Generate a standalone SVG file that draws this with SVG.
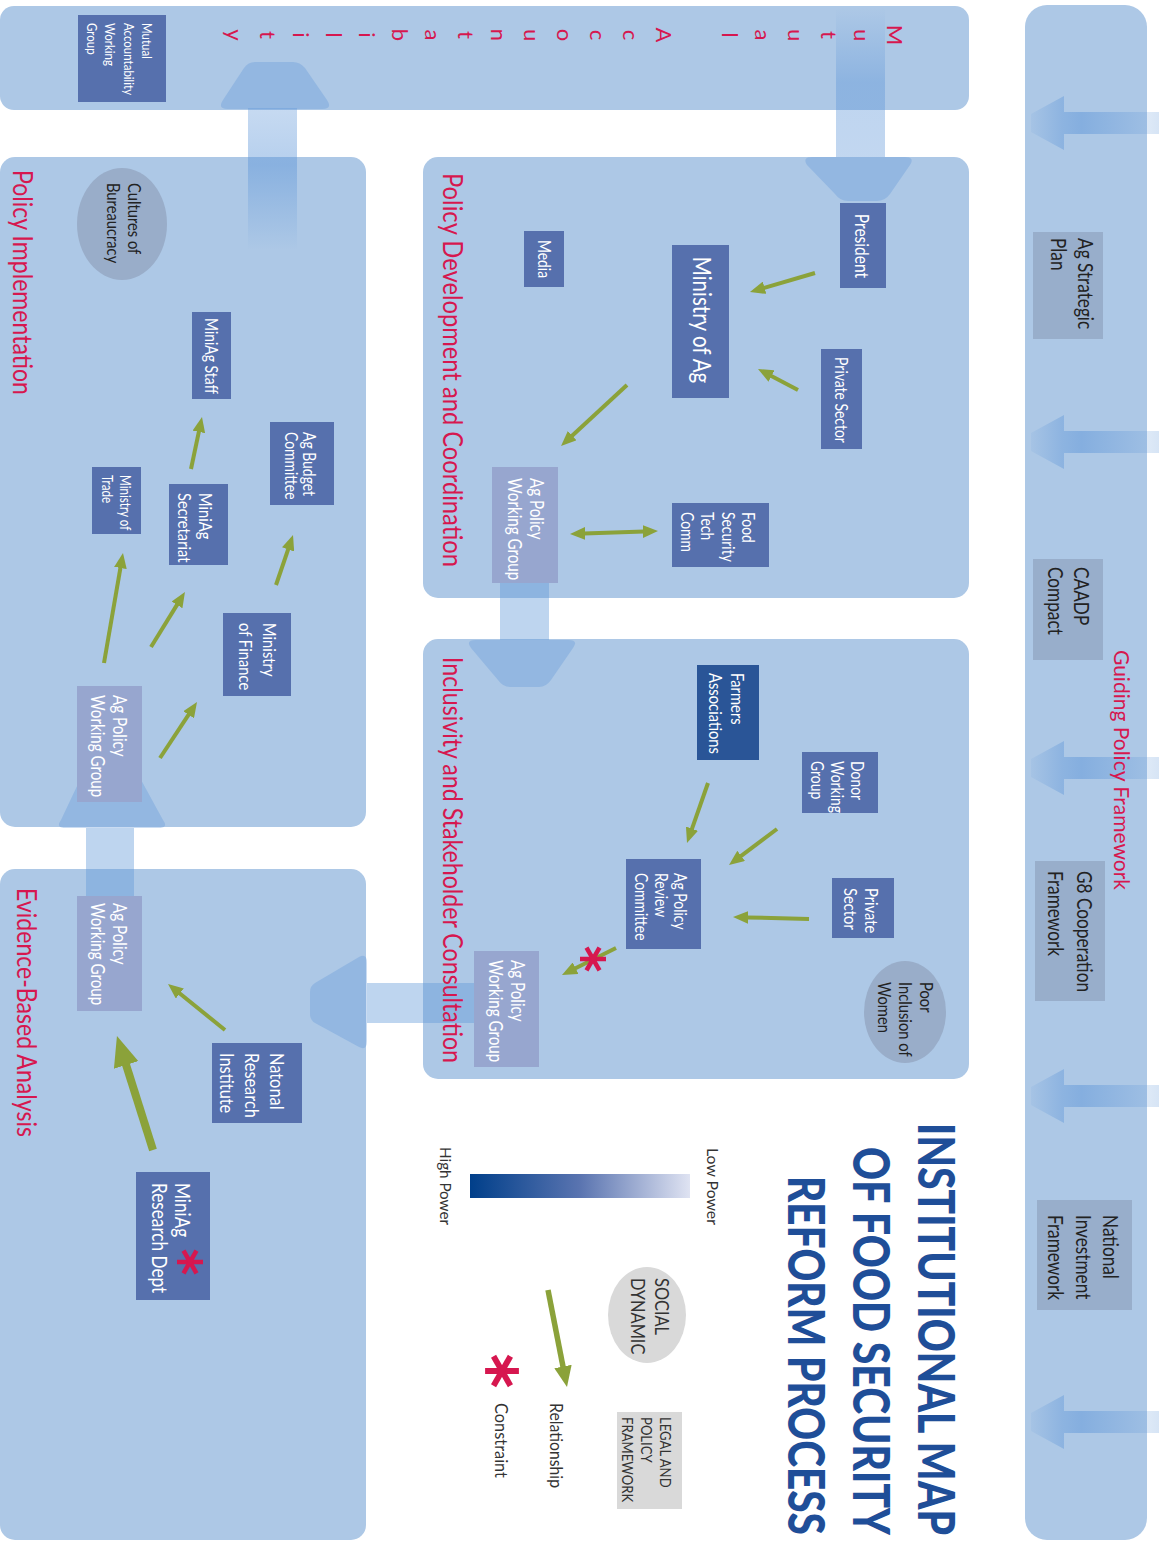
<svg xmlns="http://www.w3.org/2000/svg" width="1159" height="1543" viewBox="0 0 1159 1543">
<style>
.panel{fill:#adc8e6}
.node{fill:#5670ad}
.wg{fill:#97a6cf}
.dark{fill:#2a5597}
.gbox{fill:#98aecb}
.oval{fill:#99adc9}
.lg{fill:#d9d9d9}
.t{font-family:Lato,"Open Sans","Liberation Sans",sans-serif;fill:#ffffff}
.td{font-family:Lato,"Open Sans","Liberation Sans",sans-serif;fill:#222222}
.tl{font-family:Lato,"Open Sans","Liberation Sans",sans-serif;fill:#333333}
.lab{font-family:Lato,"Open Sans","Liberation Sans",sans-serif;fill:#d6174f}
.title{font-family:Lato,"Liberation Sans",sans-serif;font-weight:900;fill:#1f4e98}
.rel{stroke:#8ba23a;fill:none;stroke-width:4;marker-end:url(#ah)}
.head{fill:#5d95d8;fill-opacity:0.33}
.ast line{stroke:#d6174f;stroke-width:4.5;stroke-linecap:butt}
</style>
<defs>
<marker id="ah" viewBox="0 0 3.8 3.2" refX="0.3" refY="1.6" markerWidth="3.8" markerHeight="3.2" orient="auto-start-reverse" markerUnits="strokeWidth">
<path d="M0,0 L3.8,1.6 L0,3.2 Z" fill="#8ba23a"/>
</marker>
<linearGradient id="gR" gradientUnits="userSpaceOnUse" x1="1030" y1="0" x2="1159" y2="0">
<stop offset="0" stop-color="#5d95d8" stop-opacity="0.08"/>
<stop offset="0.25" stop-color="#5d95d8" stop-opacity="0.4"/>
<stop offset="0.4" stop-color="#5d95d8" stop-opacity="0.5"/>
<stop offset="0.9" stop-color="#5d95d8" stop-opacity="0.2"/>
<stop offset="1" stop-color="#5d95d8" stop-opacity="0.25"/>
</linearGradient>
<linearGradient id="gA" gradientUnits="userSpaceOnUse" x1="0" y1="8" x2="0" y2="157">
<stop offset="0" stop-color="#5d95d8" stop-opacity="0"/>
<stop offset="0.5" stop-color="#5d95d8" stop-opacity="0.4"/>
<stop offset="1" stop-color="#5d95d8" stop-opacity="0.38"/>
</linearGradient>
<linearGradient id="gB" gradientUnits="userSpaceOnUse" x1="0" y1="250" x2="0" y2="108">
<stop offset="0" stop-color="#5d95d8" stop-opacity="0"/>
<stop offset="0.6" stop-color="#5d95d8" stop-opacity="0.45"/>
<stop offset="1" stop-color="#5d95d8" stop-opacity="0.35"/>
</linearGradient>
<linearGradient id="gBar" x1="0" y1="0" x2="1" y2="0">
<stop offset="0" stop-color="#003f8a"/>
<stop offset="0.5" stop-color="#5a74b0"/>
<stop offset="1" stop-color="#dfe3f2"/>
</linearGradient>
<g id="ast" class="ast">
<line x1="-13" y1="0" x2="13" y2="0"/>
<line x1="-6.5" y1="-11.3" x2="6.5" y2="11.3"/>
<line x1="-6.5" y1="11.3" x2="6.5" y2="-11.3"/>
</g>
</defs>

<rect width="1159" height="1543" fill="#ffffff"/>

<g id="panels">
<rect id="panel-mutual" class="panel" x="0" y="6" width="969" height="104" rx="14"/>
<rect id="panel-guiding" class="panel" x="1025" y="5" width="122" height="1535" rx="22"/>
<rect id="panel-dev" class="panel" x="423" y="157" width="546" height="441" rx="15"/>
<rect id="panel-incl" class="panel" x="423" y="639" width="546" height="440" rx="15"/>
<rect id="panel-impl" class="panel" x="0" y="157" width="366" height="670" rx="15"/>
<rect id="panel-evid" class="panel" x="0" y="869" width="366" height="671" rx="15"/>
</g>

<g id="flows">
<path fill="url(#gR)" d="M1159,112 H1064 V96 L1031,114 V132 L1064,150 V134 H1159 Z"/>
<path fill="url(#gR)" d="M1159,431 H1064 V415 L1031,433 V451 L1064,469 V453 H1159 Z"/>
<path fill="url(#gR)" d="M1159,757 H1064 V741 L1031,759 V777 L1064,795 V779 H1159 Z"/>
<path fill="url(#gR)" d="M1159,1085 H1064 V1069 L1031,1087 V1105 L1064,1123 V1107 H1159 Z"/>
<path fill="url(#gR)" d="M1159,1411 H1064 V1395 L1031,1413 V1431 L1064,1449 V1433 H1159 Z"/>
<rect x="836" y="8" width="49" height="149" fill="url(#gA)"/>
<path class="head" d="M812,157 L905,157 Q915,157 910,165 L890,194 Q885,201 877,201 L848,201 Q840,201 835,194 L807,165 Q802,157 812,157 Z"/>
<rect x="248" y="108" width="49" height="142" fill="url(#gB)"/>
<path class="head" d="M228,109 L322,109 Q333,109 327,100 L305,68 Q300,62 293,62 L255,62 Q248,62 244,68 L223,100 Q217,109 228,109 Z"/>
<rect x="500" y="583" width="49" height="57" fill="#5d95d8" fill-opacity="0.4"/>
<path class="head" d="M476,640 L568,640 Q579,640 573,648 L551,680 Q546,687 539,687 L510,687 Q503,687 498,680 L471,648 Q465,640 476,640 Z"/>
<rect x="86" y="828" width="48" height="68" fill="#5d95d8" fill-opacity="0.4"/>
<path class="head" d="M66,828 L158,828 Q169,828 163,820 L134,767 L86,767 L61,820 Q55,828 66,828 Z"/>
<rect x="367" y="983" width="107" height="40" fill="#5d95d8" fill-opacity="0.4"/>
<path class="head" d="M367,963 Q367,953 359,957 L315,983 Q310,986 310,992 L310,1014 Q310,1020 315,1023 L359,1047 Q367,1051 367,1041 Z"/>
</g>

<g id="mutual-accountability">
<text class="lab" font-size="22" text-anchor="middle" transform="translate(887,35) rotate(90)"><tspan x="0" y="0">M</tspan><tspan x="0" dy="33">u</tspan><tspan x="0" dy="33">t</tspan><tspan x="0" dy="33">u</tspan><tspan x="0" dy="33">a</tspan><tspan x="0" dy="33">l</tspan><tspan x="0" dy="66">A</tspan><tspan x="0" dy="33">c</tspan><tspan x="0" dy="33">c</tspan><tspan x="0" dy="33">o</tspan><tspan x="0" dy="33">u</tspan><tspan x="0" dy="33">n</tspan><tspan x="0" dy="33">t</tspan><tspan x="0" dy="33">a</tspan><tspan x="0" dy="33">b</tspan><tspan x="0" dy="33">i</tspan><tspan x="0" dy="33">l</tspan><tspan x="0" dy="33">i</tspan><tspan x="0" dy="33">t</tspan><tspan x="0" dy="33">y</tspan></text>
</g>

<g id="labels">
<text class="lab" font-size="26" transform="translate(443,173) rotate(90)" textLength="394" lengthAdjust="spacingAndGlyphs">Policy Development and Coordination</text>
<text class="lab" font-size="26" transform="translate(443,657) rotate(90)" textLength="406" lengthAdjust="spacingAndGlyphs">Inclusivity and Stakeholder Consultation</text>
<text class="lab" font-size="26" transform="translate(13,170) rotate(90)" textLength="225" lengthAdjust="spacingAndGlyphs">Policy Implementation</text>
<text class="lab" font-size="26" transform="translate(17,888) rotate(90)" textLength="249" lengthAdjust="spacingAndGlyphs">Evidence-Based Analysis</text>
<text class="lab" font-size="22" transform="translate(1114,650) rotate(90)" textLength="240" lengthAdjust="spacingAndGlyphs">Guiding Policy Framework</text>
</g>

<g id="node-mawg"><rect class="node" x="78" y="15" width="88" height="87"/>
<text class="t" font-size="14" transform="translate(142,23) rotate(90) scale(0.82,1)"><tspan x="0" y="0">Mutual</tspan><tspan x="0" dy="18.5">Accountability</tspan><tspan x="0" dy="18.5">Working</tspan><tspan x="0" dy="18.5">Group</tspan></text></g>

<g id="node-agstrat"><rect class="gbox" x="1033" y="232" width="70" height="107"/>
<text class="td" font-size="21" transform="translate(1078,238) rotate(90) scale(0.82,1)"><tspan x="0" y="0">Ag Strategic</tspan><tspan x="0" dy="27">Plan</tspan></text></g>
<g id="node-caadp"><rect class="gbox" x="1033" y="559" width="70" height="101"/>
<text class="td" font-size="21" transform="translate(1074,567) rotate(90) scale(0.82,1)"><tspan x="0" y="0">CAADP</tspan><tspan x="0" dy="26">Compact</tspan></text></g>
<g id="node-g8"><rect class="gbox" x="1035" y="861" width="70" height="140"/>
<text class="td" font-size="21" transform="translate(1077,871) rotate(90) scale(0.82,1)"><tspan x="0" y="0">G8 Cooperation</tspan><tspan x="0" dy="29">Framework</tspan></text></g>
<g id="node-nif"><rect class="gbox" x="1037" y="1200" width="95" height="110"/>
<text class="td" font-size="21" transform="translate(1103,1215) rotate(90) scale(0.82,1)"><tspan x="0" y="0">National</tspan><tspan x="0" dy="27.5">Investment</tspan><tspan x="0" dy="27.5">Framework</tspan></text></g>

<g id="node-president"><rect class="node" x="840" y="203" width="46" height="85"/>
<text class="t" font-size="19" text-anchor="middle" transform="translate(855,246) rotate(90) scale(0.82,1)">President</text></g>
<g id="node-ministry-ag"><rect class="node" x="672" y="245" width="57" height="153"/>
<text class="t" font-size="25" text-anchor="middle" transform="translate(693,320) rotate(90) scale(0.82,1)">Ministry of Ag</text></g>
<g id="node-private-dev"><rect class="node" x="821" y="349" width="41" height="100"/>
<text class="t" font-size="17" text-anchor="middle" transform="translate(835,400) rotate(90) scale(0.82,1)">Private Sector</text></g>
<g id="node-media"><rect class="node" x="524" y="231" width="40" height="56"/>
<text class="t" font-size="17" text-anchor="middle" transform="translate(538,259) rotate(90) scale(0.82,1)">Media</text></g>
<g id="node-agpwg-dev"><rect class="wg" x="492" y="467" width="66" height="116"/>
<text class="t" font-size="18.5" transform="translate(530,478) rotate(90) scale(0.82,1)"><tspan x="0" y="0">Ag Policy</tspan><tspan x="0" dy="22">Working Group</tspan></text></g>
<g id="node-food"><rect class="node" x="672" y="503" width="97" height="64"/>
<text class="t" font-size="17" transform="translate(742,512) rotate(90) scale(0.82,1)"><tspan x="0" y="0">Food</tspan><tspan x="0" dy="20.5">Security</tspan><tspan x="0" dy="20.5">Tech</tspan><tspan x="0" dy="20.5">Comm</tspan></text></g>

<g id="node-farmers"><rect class="dark" x="697" y="665" width="62" height="95"/>
<text class="t" font-size="18" transform="translate(731,673) rotate(90) scale(0.82,1)"><tspan x="0" y="0">Farmers</tspan><tspan x="0" dy="22">Associations</tspan></text></g>
<g id="node-donor"><rect class="node" x="802" y="752" width="76" height="61"/>
<text class="t" font-size="17" transform="translate(851,761) rotate(90) scale(0.82,1)"><tspan x="0" y="0">Donor</tspan><tspan x="0" dy="20">Working</tspan><tspan x="0" dy="20">Group</tspan></text></g>
<g id="node-review"><rect class="node" x="626" y="859" width="75" height="90"/>
<text class="t" font-size="17" transform="translate(674,873) rotate(90) scale(0.82,1)"><tspan x="0" y="0">Ag Policy</tspan><tspan x="0" dy="19.5">Review</tspan><tspan x="0" dy="19.5">Committee</tspan></text></g>
<g id="node-private-incl"><rect class="node" x="832" y="878" width="62" height="60"/>
<text class="t" font-size="18" transform="translate(865,888) rotate(90) scale(0.82,1)"><tspan x="0" y="0">Private</tspan><tspan x="0" dy="21">Sector</tspan></text></g>
<g id="node-poor-women"><ellipse class="oval" cx="905" cy="1012" rx="41" ry="51"/>
<text class="td" font-size="18" transform="translate(920,982) rotate(90) scale(0.82,1)"><tspan x="0" y="0">Poor</tspan><tspan x="0" dy="21">Inclusion of</tspan><tspan x="0" dy="21">Women</tspan></text></g>
<g id="node-agpwg-incl"><rect class="wg" x="474" y="951" width="65" height="116"/>
<text class="t" font-size="18.5" transform="translate(511,960) rotate(90) scale(0.82,1)"><tspan x="0" y="0">Ag Policy</tspan><tspan x="0" dy="22">Working Group</tspan></text></g>

<g id="node-cultures"><ellipse class="oval" cx="122" cy="224" rx="45" ry="56"/>
<text class="td" font-size="18" transform="translate(128,183) rotate(90) scale(0.82,1)"><tspan x="0" y="0">Cultures of</tspan><tspan x="0" dy="21">Bureaucracy</tspan></text></g>
<g id="node-staff"><rect class="node" x="192" y="312" width="39" height="87"/>
<text class="t" font-size="17" text-anchor="middle" transform="translate(205,356) rotate(90) scale(0.82,1)">MiniAg Staff</text></g>
<g id="node-budget"><rect class="node" x="270" y="422" width="64" height="83"/>
<text class="t" font-size="17" transform="translate(303,432) rotate(90) scale(0.82,1)"><tspan x="0" y="0">Ag Budget</tspan><tspan x="0" dy="18">Committee</tspan></text></g>
<g id="node-trade"><rect class="node" x="92" y="467" width="49" height="67"/>
<text class="t" font-size="14.5" transform="translate(120,475) rotate(90) scale(0.8,1)"><tspan x="0" y="0">Ministry of</tspan><tspan x="0" dy="18">Trade</tspan></text></g>
<g id="node-secretariat"><rect class="node" x="169" y="484" width="59" height="81"/>
<text class="t" font-size="18" transform="translate(199,493) rotate(90) scale(0.82,1)"><tspan x="0" y="0">MiniAg</tspan><tspan x="0" dy="21">Secretariat</tspan></text></g>
<g id="node-finance"><rect class="node" x="223" y="613" width="68" height="83"/>
<text class="t" font-size="18" transform="translate(263,623) rotate(90) scale(0.82,1)"><tspan x="0" y="0">Ministry</tspan><tspan x="0" dy="24">of Finance</tspan></text></g>
<g id="node-agpwg-impl"><rect class="wg" x="77" y="686" width="65" height="116"/>
<text class="t" font-size="18.5" transform="translate(113,695) rotate(90) scale(0.82,1)"><tspan x="0" y="0">Ag Policy</tspan><tspan x="0" dy="22">Working Group</tspan></text></g>

<g id="node-agpwg-evid"><rect class="wg" x="77" y="896" width="65" height="115"/>
<text class="t" font-size="18.5" transform="translate(113,903) rotate(90) scale(0.82,1)"><tspan x="0" y="0">Ag Policy</tspan><tspan x="0" dy="22">Working Group</tspan></text></g>
<g id="node-natonal"><rect class="node" x="212" y="1043" width="90" height="80"/>
<text class="t" font-size="20" transform="translate(270,1053) rotate(90) scale(0.82,1)"><tspan x="0" y="0">Natonal</tspan><tspan x="0" dy="25">Research</tspan><tspan x="0" dy="25">Institute</tspan></text></g>
<g id="node-research"><rect class="node" x="136" y="1172" width="74" height="128"/>
<text class="t" font-size="21" transform="translate(175,1183) rotate(90) scale(0.82,1)"><tspan x="0" y="0">MiniAg</tspan><tspan x="0" dy="23">Research Dept</tspan></text>
<use href="#ast" transform="translate(190,1262)"/></g>

<g id="connectors">
<line class="rel" x1="815" y1="273" x2="763.4" y2="288.1"/>
<line class="rel" x1="798" y1="390" x2="770.4" y2="375.5"/>
<line class="rel" x1="627" y1="385" x2="571.3" y2="436.5"/>
<line class="rel" x1="584" y1="533.5" x2="644" y2="531.5" style="marker-start:url(#ah)"/>
<line class="rel" x1="708" y1="783" x2="691.6" y2="829.8"/>
<line class="rel" x1="777" y1="829" x2="740.2" y2="856.6"/>
<line class="rel" x1="809" y1="919" x2="747" y2="917.4"/>
<line class="rel" x1="616" y1="948" x2="574.5" y2="968.7"/>
<line class="rel" x1="191" y1="469" x2="199.1" y2="430.7"/>
<line class="rel" x1="104" y1="663" x2="120.6" y2="566.8"/>
<line class="rel" x1="151" y1="647" x2="177.6" y2="603.9"/>
<line class="rel" x1="160" y1="758" x2="189.3" y2="713.7"/>
<line class="rel" x1="276" y1="585" x2="288.5" y2="548.3"/>
<line class="rel" x1="225" y1="1030" x2="178.9" y2="992.8"/>
<line class="rel" x1="153" y1="1150" x2="125.4" y2="1062.7" style="stroke-width:8"/>
</g>
<use href="#ast" transform="translate(593,959)"/>

<g id="title">
<text class="title" font-size="41" transform="translate(918,1123) rotate(90) scale(1,1.25)" textLength="412" lengthAdjust="spacingAndGlyphs">INSTITUTIONAL MAP</text>
<text class="title" font-size="41" transform="translate(853,1147) rotate(90) scale(1,1.25)" textLength="388" lengthAdjust="spacingAndGlyphs">OF FOOD SECURITY</text>
<text class="title" font-size="41" transform="translate(788,1176) rotate(90) scale(1,1.25)" textLength="359" lengthAdjust="spacingAndGlyphs">REFORM PROCESS</text>
</g>

<g id="legend">
<text class="tl" font-size="16" transform="translate(707,1148) rotate(90)" textLength="77" lengthAdjust="spacingAndGlyphs">Low Power</text>
<rect x="470" y="1174" width="220" height="24" fill="url(#gBar)"/>
<text class="tl" font-size="16" transform="translate(440,1147) rotate(90)" textLength="78" lengthAdjust="spacingAndGlyphs">High Power</text>
<g id="legend-social"><ellipse class="lg" cx="647" cy="1315" rx="39" ry="48"/>
<text class="tl" font-size="20" transform="translate(655,1278) rotate(90) scale(0.82,1)"><tspan x="0" y="0">SOCIAL</tspan><tspan x="0" dy="24">DYNAMIC</tspan></text></g>
<g id="legend-legal"><rect class="lg" x="617" y="1412" width="65" height="97"/>
<text class="tl" font-size="16" transform="translate(660,1417) rotate(90) scale(0.82,1)"><tspan x="0" y="0">LEGAL AND</tspan><tspan x="0" dy="19">POLICY</tspan><tspan x="0" dy="19">FRAMEWORK</tspan></text></g>
<line class="rel" x1="548" y1="1290" x2="563.3" y2="1368.1" style="stroke-width:5.5"/>
<text class="tl" font-size="18" transform="translate(550,1403) rotate(90)" textLength="85" lengthAdjust="spacingAndGlyphs">Relationship</text>
<use href="#ast" transform="translate(502,1371) scale(1.3)"/>
<text class="tl" font-size="18" transform="translate(495,1403) rotate(90)" textLength="75" lengthAdjust="spacingAndGlyphs">Constraint</text>
</g>
</svg>
